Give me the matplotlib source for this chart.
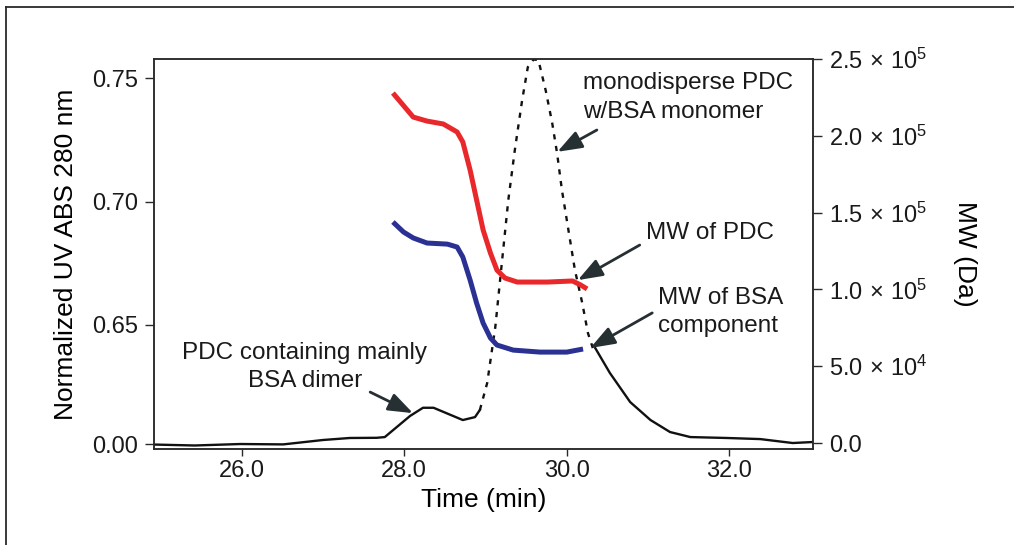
import matplotlib
matplotlib.use('Agg')
import matplotlib.pyplot as plt
from matplotlib.lines import Line2D
from matplotlib.ticker import NullLocator
import numpy as np

plt.rcParams['font.family'] = ['Liberation Sans', 'DejaVu Sans']
plt.rcParams['mathtext.fontset'] = 'custom'
plt.rcParams['mathtext.rm'] = 'Liberation Sans'
plt.rcParams['mathtext.it'] = 'Liberation Sans:italic'

# UV trace (solid parts) and the main peak (dotted), time in min
uv_t1 = [24.93, 25.42, 25.98, 26.51, 27.00, 27.33, 27.66, 27.76, 28.07, 28.23, 28.36, 28.72, 28.87, 28.93]
uv_y1 = [-0.003, -0.008, 0.0, -0.002, 0.022, 0.033, 0.034, 0.038, 0.153, 0.198, 0.198, 0.131, 0.147, 0.186]
peak_t = [28.93, 29.02, 29.12, 29.20, 29.28, 29.36, 29.45, 29.52, 29.59, 29.65, 29.74, 29.82, 29.88,
          29.94, 30.02, 30.10, 30.19, 30.26, 30.32]
peak_y = [0.186, 0.333, 0.639, 0.675, 0.7006, 0.7208, 0.741, 0.7544, 0.7575, 0.7573, 0.745, 0.7318, 0.7196,
          0.7046, 0.6884, 0.6722, 0.6589, 0.606, 0.524]
uv_t2 = [30.35, 30.53, 30.78, 31.03, 31.27, 31.52, 31.97, 32.38, 32.78, 33.03]
uv_y2 = [0.524, 0.388, 0.229, 0.131, 0.0655, 0.038, 0.033, 0.027, 0.0055, 0.011]

# molar mass traces (Da)
pdc_t = [27.86, 28.11, 28.28, 28.48, 28.65, 28.72, 28.81, 28.89, 28.97, 29.06, 29.14, 29.24, 29.39,
         29.76, 30.07, 30.17, 30.25]
pdc_mw = [227850, 212200, 209600, 207700, 202500, 196000, 177700, 158200, 138700, 123700, 112600,
          107400, 104800, 104800, 105500, 102900, 100300]
bsa_t = [27.86, 27.99, 28.11, 28.28, 28.53, 28.65, 28.72, 28.81, 28.89, 28.97, 29.06, 29.14, 29.34,
         29.67, 30.00, 30.20]
bsa_mw = [143900, 137400, 133500, 130200, 129500, 127600, 121100, 106100, 91100, 78100, 68400, 63800,
          60500, 59200, 59200, 61200]

x_ticks = [26.0, 28.0, 30.0, 32.0]
uv_ticks = [0.00, 0.65, 0.70, 0.75]
mw_ticks = [0, 5e4, 1e5, 1.5e5, 2e5, 2.5e5]
mw_labels = ['0.0', r'$5.0\,\times\,10^{4}$', r'$1.0\,\times\,10^{5}$', r'$1.5\,\times\,10^{5}$',
             r'$2.0\,\times\,10^{5}$', r'$2.5\,\times\,10^{5}$']

# broken left axis: 0-0.65 squeezed into about one 0.05 step
K = 0.964


def fwd(y):
    y = np.asarray(y, dtype=float)
    return np.where(y < 0.65, y / 0.65 * K, K + (y - 0.65) / 0.05)


def inv(u):
    u = np.asarray(u, dtype=float)
    return np.where(u < K, u / K * 0.65, 0.65 + (u - K) * 0.05)


dark = '#2a2a2a'
fig = plt.figure(figsize=(10.14, 5.45), dpi=100)
ax = fig.add_axes([0.1519, 0.1761, 0.6499, 0.7156])
ax.set_yscale('function', functions=(fwd, inv))

ax.plot(uv_t1, uv_y1, color='#111111', lw=1.7, solid_joinstyle='round')
ax.plot(peak_t, peak_y, color='#111111', lw=1.7, linestyle=(0, (2.2, 2.8)))
ax.plot(uv_t2, uv_y2, color='#111111', lw=1.7, solid_joinstyle='round')

ax.set_xlim(24.92, 33.03)
ax.set_ylim(-0.0273, 0.7577)
ax.set_yticks(uv_ticks)
ax.set_yticklabels(['%.2f' % v for v in uv_ticks])
ax.yaxis.set_minor_locator(NullLocator())
ax.set_xticks(x_ticks)
ax.set_xticklabels(['%.1f' % v for v in x_ticks])

ax2 = ax.twinx()
ax2.plot(pdc_t, pdc_mw, color='#e8282b', lw=3.6, solid_capstyle='butt', solid_joinstyle='round')
ax2.plot(bsa_t, bsa_mw, color='#2b3192', lw=3.6, solid_capstyle='butt', solid_joinstyle='round')
ax2.set_ylim(-3906, 250000)
ax2.set_yticks(mw_ticks)
ax2.set_yticklabels(mw_labels)

for a in (ax, ax2):
    for s in a.spines.values():
        s.set_linewidth(1.1)
        s.set_color(dark)
    a.tick_params(colors=dark, labelcolor='#1a1a1a', width=1.0, labelsize=17)
ax.tick_params(axis='y', length=6.5, pad=5)
ax.tick_params(axis='x', length=5, pad=3)
ax2.tick_params(axis='y', length=6.5, pad=5)

ax.set_xlabel('Time (min)', fontsize=19, labelpad=4)
ax.set_ylabel('Normalized UV ABS 280 nm', fontsize=19, labelpad=10)
ax2.set_ylabel('MW (Da)', fontsize=19, rotation=270, labelpad=36)

arrow = dict(arrowstyle='-|>,head_length=0.6,head_width=0.22', color='#263033', lw=2,
             mutation_scale=25, shrinkA=0, shrinkB=0)
fs = 17.5
ax.text(0.651, 0.901, 'monodisperse PDC\nw/BSA monomer', transform=ax.transAxes,
        ha='left', va='center', fontsize=fs, linespacing=1.38, color='#1a1a1a')
ax.annotate('', xy=(0.612, 0.762), xytext=(0.672, 0.818), xycoords='axes fraction',
            textcoords='axes fraction', arrowprops=arrow)
ax.text(0.747, 0.554, 'MW of PDC', transform=ax.transAxes, ha='left', va='center',
        fontsize=fs, color='#1a1a1a')
ax.annotate('', xy=(0.643, 0.433), xytext=(0.737, 0.523), xycoords='axes fraction',
            textcoords='axes fraction', arrowprops=arrow)
ax.text(0.765, 0.351, 'MW of BSA\ncomponent', transform=ax.transAxes, ha='left', va='center',
        fontsize=fs, linespacing=1.38, color='#1a1a1a')
ax.annotate('', xy=(0.662, 0.259), xytext=(0.756, 0.349), xycoords='axes fraction',
            textcoords='axes fraction', arrowprops=arrow)
ax.text(0.229, 0.210, 'PDC containing mainly\nBSA dimer', transform=ax.transAxes, ha='center',
        va='center', fontsize=fs, linespacing=1.38, color='#1a1a1a')
ax.annotate('', xy=(0.393, 0.092), xytext=(0.328, 0.146), xycoords='axes fraction',
            textcoords='axes fraction', arrowprops=arrow)

# outer frame, cut off at right and bottom
fig.add_artist(Line2D([6 / 1014, 6 / 1014], [0, 1 - 7 / 545], transform=fig.transFigure,
                      color=dark, lw=1.3))
fig.add_artist(Line2D([6 / 1014, 1], [1 - 7 / 545, 1 - 7 / 545], transform=fig.transFigure,
                      color=dark, lw=1.3))

fig.savefig('out.png', dpi=100)
